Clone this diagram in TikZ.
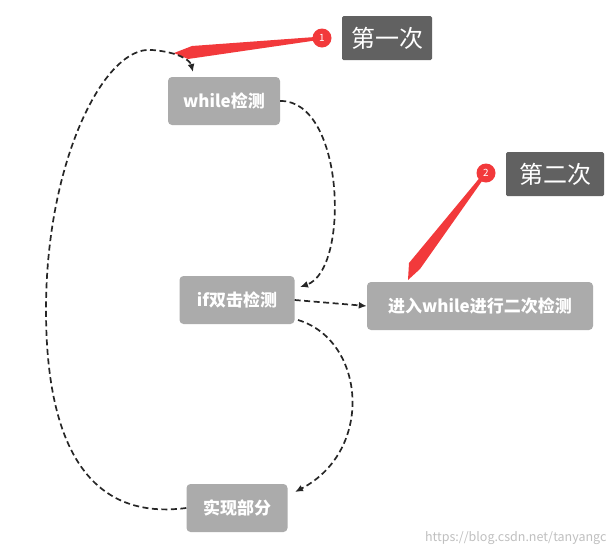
\documentclass[tikz,border=0pt]{standalone}
\usepackage{fontspec}
\setmainfont{Noto Sans CJK SC}
\usetikzlibrary{arrows.meta,calc}
\definecolor{boxg}{HTML}{ABABAB}
\definecolor{lab}{HTML}{616161}
\definecolor{rd}{HTML}{F2393B}
\tikzset{
 proc/.style={fill=boxg,rounded corners=4pt,text=white,font=\bfseries\fontsize{17}{19}\selectfont,inner xsep=6pt,minimum height=48pt},
 tag/.style={fill=lab,rounded corners=1.5pt,text=white,font=\fontsize{24}{26}\selectfont,inner xsep=4pt,minimum height=44pt},
 num/.style={circle,fill=rd,text=white,font=\fontsize{10}{11}\selectfont,inner sep=0pt,minimum size=19pt},
 con/.style={line width=1.7pt,color=black!85,dash pattern=on 6pt off 3.5pt,-{Latex[length=8pt,width=7pt]}}
}
\begin{document}
\begin{tikzpicture}[x=1pt,y=-1pt]
\useasboundingbox (0,0) rectangle (614,555);
\node[proc,minimum width=112pt] (w) at (224,101) {while检测};
\node[proc,minimum width=115pt] (i) at (237,300) {if双击检测};
\node[proc,minimum width=226pt] (e) at (480,306) {进入while进行二次检测};
\node[proc,minimum width=101pt] (s) at (237,508) {实现部分};
\node[tag,minimum width=90pt] (t1) at (387,38) {第一次};
\node[tag,minimum width=98pt] (t2) at (555,174) {第二次};
\coordinate (a1) at (174,53);
\coordinate (a2) at (408,280);
\fill[rd] ($(322,38)+(0,-1.5)$) -- ($(a1)+(18,-7)$) -- (a1) -- ($(a1)+(14,6)$) -- ($(322,38)+(0,1.5)$) -- cycle;
\fill[rd] ($(486,173)+(-1.5,-1)$) -- ($(a2)+(1,-17)$) -- (a2) -- ($(a2)+(12,-11)$) -- ($(486,173)+(1,1)$) -- cycle;
\node[num] (n1) at (322,38) {1};
\node[num] (n2) at (486,173) {2};
\draw[con] (w.east) .. controls (345,100) and (350,270) .. (300,287);
\draw[con] (i.east) -- (e.west);
\draw[con] (298,320) .. controls (365,340) and (375,450) .. (295,492);
\draw[con] (s.west) .. controls (80,522) and (46,430) .. (46,310) .. controls (46,160) and (105,45) .. (152,50) .. controls (178,52) and (190,60) .. (193,72);
\node[text=black!25,font=\fontsize{12.5}{14}\selectfont,anchor=east] (wm) at (610,538) {https://blog.csdn.net/tanyangc};
\end{tikzpicture}
\end{document}
